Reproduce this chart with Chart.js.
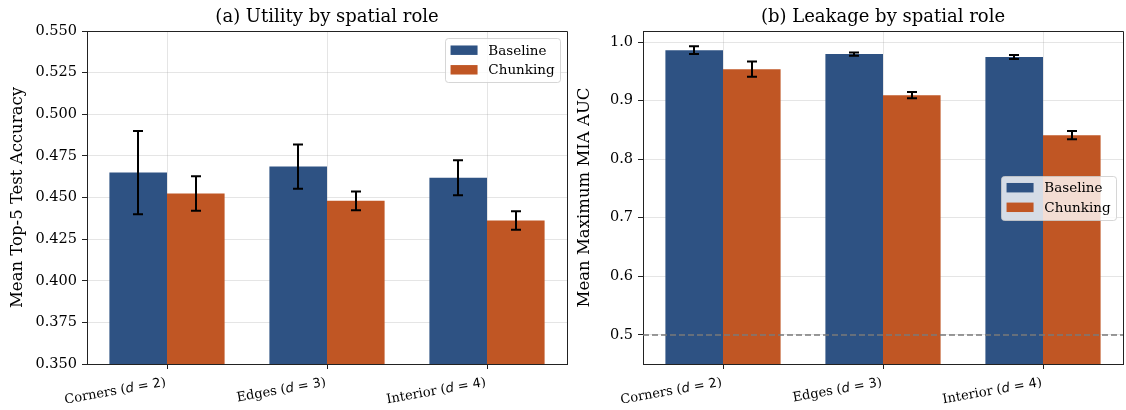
<!DOCTYPE html>
<html>
<head>
<meta charset="utf-8">
<title>Spatial role: utility and leakage</title>
<script src="https://cdn.jsdelivr.net/npm/chart.js@4.4.1/dist/chart.umd.min.js"></script>
<style>
  body { margin: 0; background: #fff; }
  #wrap { position: relative; width: 1126px; height: 410px; }
  #wrap canvas { position: absolute; left: 0; top: 0; }
</style>
</head>
<body>
<div id="wrap">
  <canvas id="utilityChart" width="1126" height="410"></canvas>
  <canvas id="leakageChart" width="1126" height="410"></canvas>
</div>
<script>
// categorias e séries
const roles = ['Corners (d = 2)', 'Edges (d = 3)', 'Interior (d = 4)'];
const seriesNames = ['Baseline', 'Chunking'];

// (a) acurácia top-5 média, com desvio
const utilBaseline = [0.465, 0.4686, 0.4618];
const utilBaselineErr = [0.025, 0.0133, 0.0105];
const utilChunking = [0.4524, 0.448, 0.4362];
const utilChunkingErr = [0.0103, 0.0056, 0.0056];
const utilTicks = [0.350, 0.375, 0.400, 0.425, 0.450, 0.475, 0.500, 0.525, 0.550];

// (b) AUC máxima do ataque MIA
const leakBaseline = [0.9863, 0.9795, 0.9744];
const leakBaselineErr = [0.0065, 0.0026, 0.0034];
const leakChunking = [0.9538, 0.9094, 0.841];
const leakChunkingErr = [0.013, 0.0054, 0.007];
const leakTicks = [0.5, 0.6, 0.7, 0.8, 0.9, 1.0];
const chanceLevel = 0.5;

const baselineColor = '#2e5283';
const chunkingColor = '#c05624';
const spineColor = '#222';
const gridColor = 'rgba(160,160,160,0.28)';
const SERIF = 'DejaVu Serif';
const SANS = 'DejaVu Sans';

// barras de erro (média ± desvio)
const errorBars = {
    id: 'errorBars',
    afterDatasetsDraw(chart) {
        const { ctx } = chart;
        const y = chart.scales.y;
        ctx.save();
        ctx.strokeStyle = '#000';
        ctx.lineWidth = 2;
        chart.data.datasets.forEach((ds, i) => {
            chart.getDatasetMeta(i).data.forEach((bar, j) => {
                const top = y.getPixelForValue(ds.data[j] + ds.errors[j]);
                const bot = y.getPixelForValue(ds.data[j] - ds.errors[j]);
                const x = Math.round(bar.x);
                ctx.beginPath();
                ctx.moveTo(x, top); ctx.lineTo(x, bot);
                ctx.moveTo(x - 5, top); ctx.lineTo(x + 5, top);
                ctx.moveTo(x - 5, bot); ctx.lineTo(x + 5, bot);
                ctx.stroke();
            });
        });
        ctx.restore();
    }
};

// linha tracejada de referência (acaso)
const refLine = {
    id: 'refLine',
    afterDatasetsDraw(chart, args, opts) {
        if (opts.value === undefined) return;
        const { ctx, chartArea } = chart;
        const yy = Math.round(chart.scales.y.getPixelForValue(opts.value));
        ctx.save();
        ctx.strokeStyle = '#7a7a7a';
        ctx.lineWidth = 1.5;
        ctx.setLineDash([6, 3]);
        ctx.beginPath();
        ctx.moveTo(chartArea.left, yy);
        ctx.lineTo(chartArea.right, yy);
        ctx.stroke();
        ctx.restore();
    }
};

// fecha a moldura: linhas do topo e da direita
const frame = {
    id: 'frame',
    afterDraw(chart) {
        const { ctx, chartArea: a } = chart;
        const l = Math.round(a.left) + 0.5, t = Math.round(a.top) + 0.5;
        const r = Math.round(a.right) + 0.5, b = Math.round(a.bottom) + 0.5;
        ctx.save();
        ctx.strokeStyle = spineColor;
        ctx.lineWidth = 1;
        ctx.beginPath();
        ctx.moveTo(l, t); ctx.lineTo(r, t); ctx.lineTo(r, b);
        ctx.stroke();
        ctx.restore();
    }
};

// título centralizado sobre a área do gráfico
const panelTitle = {
    id: 'panelTitle',
    afterDraw(chart, args, opts) {
        const { ctx, chartArea: a } = chart;
        ctx.save();
        ctx.font = `18px "${SERIF}"`;
        ctx.fillStyle = '#000';
        ctx.textAlign = 'center';
        ctx.textBaseline = 'alphabetic';
        ctx.fillText(opts.text, (a.left + a.right) / 2, 22);
        ctx.restore();
    }
};

// rótulos do eixo x inclinados, com o "d" em itálico
const roleLabels = {
    id: 'roleLabels',
    afterDraw(chart) {
        const { ctx, chartArea: a } = chart;
        const xs = chart.scales.x;
        const fs = 13;
        const ang = 10 * Math.PI / 180;
        ctx.save();
        ctx.fillStyle = '#000';
        ctx.textBaseline = 'alphabetic';
        ctx.textAlign = 'left';
        chart.data.labels.forEach((label, i) => {
            const m = label.match(/^(.*\()d( = \d)(\))$/);
            const parts = m
                ? [[m[1], `${fs}px "${SERIF}"`], ['d', `italic ${fs}px "${SANS}"`], [m[2], `${fs}px "${SANS}"`], [m[3], `${fs}px "${SERIF}"`]]
                : [[label, `${fs}px "${SERIF}"`]];
            const widths = parts.map(p => { ctx.font = p[1]; return ctx.measureText(p[0]).width; });
            const total = widths.reduce((s, w) => s + w, 0);
            const h = fs * 1.15;
            const tx = xs.getPixelForTick(i);
            ctx.save();
            ctx.translate(tx - h * Math.sin(ang), a.bottom + 10);
            ctx.rotate(-ang);
            let x = -total;
            parts.forEach((p, k) => {
                ctx.font = p[1];
                ctx.fillText(p[0], x, fs * 0.92);
                x += widths[k];
            });
            ctx.restore();
        });
        ctx.restore();
    }
};

// legenda semitransparente dentro da área do gráfico
const floatLegend = {
    id: 'floatLegend',
    afterDraw(chart, args, opts) {
        const { ctx, chartArea: a } = chart;
        const fs = 13.5;
        ctx.save();
        ctx.font = `${fs}px "${SERIF}"`;
        const textW = Math.max(...chart.data.datasets.map(d => ctx.measureText(d.label).width));
        const pad = 0.4 * fs, handle = 2 * fs, gap = 0.8 * fs;
        const w = pad + handle + gap + textW + pad;
        const h = 44;
        const inset = 7;
        const x0 = a.right - inset - w;
        const y0 = opts.place === 'center' ? (a.top + a.bottom) / 2 - h / 2 : a.top + inset;
        ctx.beginPath();
        ctx.roundRect(Math.round(x0) + 0.5, Math.round(y0) + 0.5, Math.round(w), h, 3);
        ctx.fillStyle = 'rgba(255,255,255,0.8)';
        ctx.fill();
        ctx.strokeStyle = 'rgba(204,204,204,0.8)';
        ctx.lineWidth = 1;
        ctx.stroke();
        chart.data.datasets.forEach((d, i) => {
            const cy = y0 + 12.2 + i * 19.6;
            ctx.fillStyle = d.backgroundColor;
            ctx.fillRect(x0 + pad, cy - 0.35 * fs, handle, 0.7 * fs);
            ctx.fillStyle = '#000';
            ctx.textBaseline = 'middle';
            ctx.fillText(d.label, x0 + pad + handle + gap, cy + 1);
        });
        ctx.restore();
    }
};

function buildChart(id, cfg) {
    return new Chart(document.getElementById(id), {
        type: 'bar',
        data: {
            labels: roles,
            datasets: [
                { label: seriesNames[0], data: cfg.base, errors: cfg.baseErr, backgroundColor: baselineColor },
                { label: seriesNames[1], data: cfg.chunk, errors: cfg.chunkErr, backgroundColor: chunkingColor }
            ]
        },
        options: {
            responsive: false,
            animation: false,
            events: [],
            datasets: { bar: { categoryPercentage: 0.72, barPercentage: 1.0, borderWidth: 0 } },
            layout: { padding: { left: cfg.padLeft, right: 1126 - cfg.area.right, top: cfg.area.top, bottom: 0 } },
            plugins: {
                legend: { display: false },
                tooltip: { enabled: false },
                panelTitle: { text: cfg.title },
                floatLegend: { place: cfg.legendPlace },
                refLine: { value: cfg.refValue }
            },
            scales: {
                x: {
                    z: 1,
                    grid: { offset: false, color: gridColor, tickColor: spineColor, tickLength: 5 },
                    border: { color: spineColor, width: 1 },
                    ticks: { display: false },
                    afterFit: s => { s.height = 410 - cfg.area.bottom; }
                },
                y: {
                    z: 1,
                    min: cfg.min,
                    max: cfg.max,
                    grid: { color: gridColor, tickColor: spineColor, tickLength: 5 },
                    border: { color: spineColor, width: 1 },
                    ticks: {
                        padding: 5,
                        color: '#000',
                        font: { family: SERIF, size: 14.5 },
                        callback: v => Number(v).toFixed(cfg.decimals)
                    },
                    afterBuildTicks: s => { s.ticks = cfg.ticks.map(v => ({ value: v })); },
                    afterFit: s => { s.width = cfg.area.left - cfg.padLeft; },
                    title: {
                        display: true,
                        text: cfg.yTitle,
                        color: '#000',
                        font: { family: SERIF, size: 16.5 },
                        padding: { top: 8, bottom: 0 }
                    }
                }
            }
        },
        plugins: [errorBars, refLine, frame, panelTitle, roleLabels, floatLegend]
    });
}

buildChart('utilityChart', {
    title: '(a) Utility by spatial role',
    yTitle: 'Mean Top-5 Test Accuracy',
    base: utilBaseline, baseErr: utilBaselineErr,
    chunk: utilChunking, chunkErr: utilChunkingErr,
    ticks: utilTicks, min: 0.35, max: 0.55, decimals: 3,
    area: { left: 87, right: 567, top: 31, bottom: 364 },
    padLeft: 0,
    legendPlace: 'upper'
});

buildChart('leakageChart', {
    title: '(b) Leakage by spatial role',
    yTitle: 'Mean Maximum MIA AUC',
    base: leakBaseline, baseErr: leakBaselineErr,
    chunk: leakChunking, chunkErr: leakChunkingErr,
    ticks: leakTicks, min: 0.45, max: 1.019, decimals: 1,
    area: { left: 643, right: 1123, top: 31, bottom: 364 },
    padLeft: 567,
    legendPlace: 'center',
    refValue: chanceLevel
});
</script>
</body>
</html>
